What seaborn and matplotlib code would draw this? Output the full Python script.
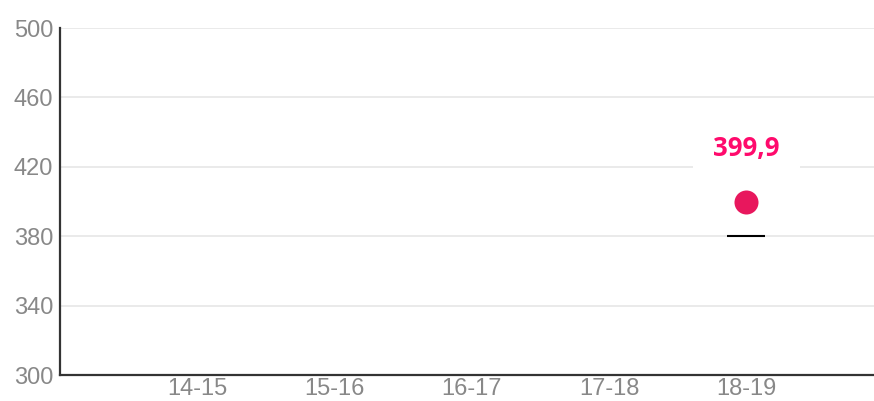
import numpy as np
import pandas as pd
import matplotlib
matplotlib.use("Agg")
import matplotlib.pyplot as plt
import seaborn as sns

# ---- data ----
categories = ["14-15", "15-16", "16-17", "17-18", "18-19"]
values = [np.nan, np.nan, np.nan, np.nan, 399.9]
target = [np.nan, np.nan, np.nan, np.nan, 380.0]
value_labels = ["", "", "", "", "399,9"]
y_ticks = [300, 340, 380, 420, 460, 500]

df = pd.DataFrame({"cat": categories, "value": values, "target": target, "label": value_labels})

sns.set_theme(style="white")
plt.rcParams["font.family"] = ["Liberation Sans", "DejaVu Sans"]

fig = plt.figure(figsize=(8.74, 4.01), dpi=100)
ax = fig.add_axes([60 / 874, 1 - 375 / 401, 1 - 60 / 874, (375 - 28) / 401])

sns.stripplot(data=df, x="cat", y="value", order=categories, jitter=False,
              color="#E8175D", size=17.3, linewidth=0, ax=ax, zorder=5)

# target marks
xi = [categories.index(c) for c in df["cat"]]
ax.scatter(xi, df["target"], marker="_", s=27.4 ** 2, linewidths=1.5, color="black", zorder=4)

# data labels
for i, (v, lab) in enumerate(zip(df["value"], df["label"])):
    if not np.isnan(v):
        ax.annotate(lab, (i, v), xytext=(0, 33), textcoords="offset points",
                    ha="center", va="baseline", fontsize=18.5, fontweight="bold",
                    family=["Open Sans", "DejaVu Sans"], color="#FF0A6C", zorder=6,
                    bbox=dict(boxstyle="square,pad=0.8", fc="white", ec="none"))

ax.set_xlim(-1, 4.93)
ax.set_ylim(300, 500)
ax.set_yticks(y_ticks)
ax.set_xlabel("")
ax.set_ylabel("")
ax.grid(axis="y", color="#e6e6e6", linewidth=1.2)
ax.grid(axis="x", visible=False)
ax.set_axisbelow(True)
for s in ["top", "right"]:
    ax.spines[s].set_visible(False)
for s in ["left", "bottom"]:
    ax.spines[s].set_color("#333333")
    ax.spines[s].set_linewidth(1.6)
ax.tick_params(axis="both", length=0, labelsize=17, labelcolor="#888888")
ax.tick_params(axis="y", pad=5)
ax.tick_params(axis="x", pad=2)

fig.savefig("out.png", dpi=100)
